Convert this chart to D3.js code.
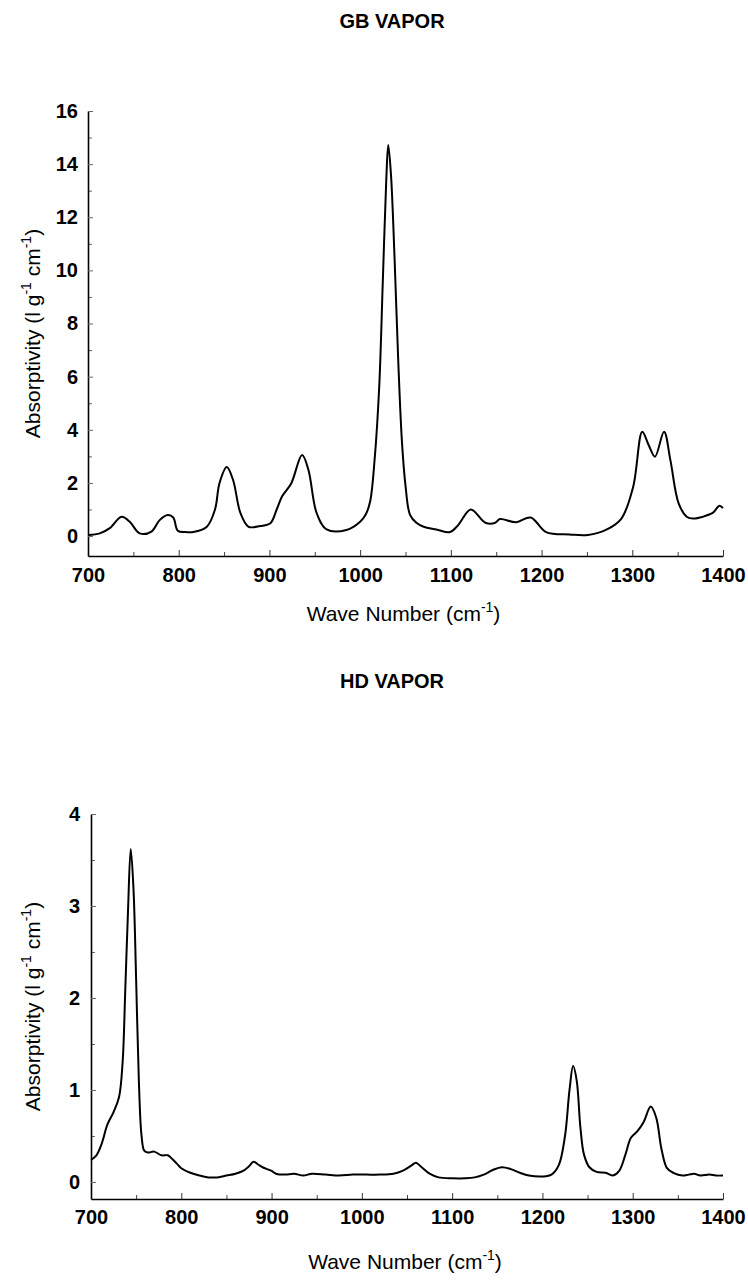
<!DOCTYPE html>
<html>
<head>
<meta charset="utf-8">
<script src="https://cdnjs.cloudflare.com/ajax/libs/d3/7.8.5/d3.min.js"></script>
<style>
  body { margin: 0; background: #fff; }
  svg { display: block; }
  text { font-family: "Liberation Sans", Arial, Helvetica, sans-serif; fill: #000; }
</style>
</head>
<body>
<div id="chart"></div>
<script>
// GB vapor spectrum
var gbWave = [700, 713, 724, 737, 746, 757, 770, 779, 788, 794, 799, 808, 816, 831, 840, 845, 853, 860, 868, 877,
  890, 901, 908, 914, 924, 936, 943, 952, 963, 985, 1000, 1006, 1011, 1016, 1021, 1025, 1029, 1031, 1034, 1038, 1042, 1046, 1050, 1055,
  1062, 1070, 1084, 1099, 1108, 1122, 1138, 1149, 1154, 1172, 1188, 1205, 1231, 1251, 1272, 1288, 1301, 1311, 1318, 1325,
  1335, 1342, 1351, 1360, 1367, 1378, 1389, 1396, 1400];
var gbAbs = [0.04, 0.1, 0.3, 0.73, 0.54, 0.1, 0.17, 0.6, 0.79, 0.7, 0.2, 0.15, 0.15, 0.35, 1.0, 2.0, 2.6, 2.1, 0.87, 0.35,
  0.38, 0.48, 1.0, 1.5, 1.98, 3.05, 2.49, 0.87, 0.25, 0.23, 0.54, 0.8, 1.3, 2.9, 5.6, 9.6, 13.6, 14.72, 13.6, 10.4, 6.6, 3.6, 1.9, 0.8,
  0.5, 0.35, 0.25, 0.15, 0.41, 1.0, 0.5, 0.5, 0.64, 0.52, 0.7, 0.15, 0.06, 0.04, 0.25, 0.66, 1.86, 3.93, 3.43, 2.99,
  3.93, 2.86, 1.24, 0.73, 0.66, 0.73, 0.88, 1.14, 1.05];

// HD vapor spectrum
var hdWave = [700, 706, 712, 718, 725, 731, 735, 738, 741, 744, 747, 750, 753, 756, 759, 763, 770, 778, 785, 790,
  795, 800, 810, 820, 830, 840, 850, 860, 870, 875, 880, 885, 890, 900, 905, 915, 925, 935, 945, 960, 975, 990,
  1005, 1020, 1035, 1045, 1055, 1060, 1065, 1075, 1085, 1100, 1115, 1125, 1135, 1145, 1155, 1165, 1175, 1185, 1200,
  1210, 1218, 1225, 1230, 1234, 1238, 1242, 1246, 1252, 1260, 1270, 1278, 1285, 1292, 1298, 1305, 1312, 1320, 1326,
  1332, 1338, 1345, 1355, 1362, 1368, 1375, 1385, 1392, 1400];
var hdAbs = [0.24, 0.29, 0.42, 0.62, 0.76, 0.92, 1.3, 2.1, 2.95, 3.62, 3.2, 2.2, 1.1, 0.5, 0.34, 0.32, 0.33, 0.29, 0.29, 0.25,
  0.2, 0.15, 0.1, 0.07, 0.05, 0.05, 0.07, 0.09, 0.13, 0.17, 0.22, 0.19, 0.16, 0.12, 0.09, 0.08, 0.09, 0.07, 0.09, 0.08, 0.07, 0.08,
  0.08, 0.08, 0.09, 0.12, 0.18, 0.21, 0.17, 0.09, 0.05, 0.04, 0.04, 0.05, 0.08, 0.13, 0.16, 0.14, 0.1, 0.07, 0.06,
  0.08, 0.18, 0.5, 1.0, 1.26, 1.1, 0.6, 0.3, 0.16, 0.11, 0.1, 0.07, 0.12, 0.3, 0.48, 0.55, 0.65, 0.82, 0.7,
  0.35, 0.15, 0.1, 0.07, 0.08, 0.09, 0.07, 0.08, 0.07, 0.07];

var waveTicks = [700, 800, 900, 1000, 1100, 1200, 1300, 1400];
var waveMinor = [750, 850, 950, 1050, 1150, 1250, 1350];
var gbTicks = [0, 2, 4, 6, 8, 10, 12, 14, 16];
var gbMinor = [1, 3, 5, 7, 9, 11, 13, 15];
var hdTicks = [0, 1, 2, 3, 4];
var hdMinor = [0.5, 1.5, 2.5, 3.5];

var width = 748, height = 1284;

var svg = d3.select("#chart").append("svg")
  .attr("width", width)
  .attr("height", height);

function drawPanel(p) {
  var x = d3.scaleLinear().domain([700, 1400]).range([p.left, p.right]);
  var y = d3.scaleLinear().domain([p.yMin, p.yMax]).range([p.bottom, p.top]);

  var g = svg.append("g");

  // minor ticks first (no labels)
  g.append("g")
    .attr("transform", "translate(0," + p.bottom + ")")
    .call(d3.axisBottom(x).tickValues(waveMinor).tickSizeInner(-4).tickSizeOuter(0).tickFormat(""))
    .call(function(a) { a.select(".domain").remove(); a.selectAll("line").attr("stroke-width", 1).attr("stroke", "#444"); });

  g.append("g")
    .attr("transform", "translate(" + p.left + ",0)")
    .call(d3.axisLeft(y).tickValues(p.minor).tickSizeInner(-4).tickSizeOuter(0).tickFormat(""))
    .call(function(a) { a.select(".domain").remove(); a.selectAll("line").attr("stroke-width", 1).attr("stroke", "#666"); });

  // x axis
  var xa = g.append("g")
    .attr("transform", "translate(0," + p.bottom + ")")
    .call(d3.axisBottom(x).tickValues(waveTicks).tickSizeInner(-6).tickSizeOuter(0).tickPadding(p.xPad).tickFormat(d3.format("d")));
  xa.select(".domain").attr("stroke-width", 1.6);
  xa.selectAll("line").attr("stroke-width", 1).attr("stroke", "#333");
  xa.selectAll("text").attr("font-size", 20).attr("font-weight", "bold");

  // y axis
  var ya = g.append("g")
    .attr("transform", "translate(" + p.left + ",0)")
    .call(d3.axisLeft(y).tickValues(p.ticks).tickSizeInner(-5).tickSizeOuter(0).tickPadding(p.yPad).tickFormat(d3.format("d")));
  ya.select(".domain").attr("stroke-width", 1.6);
  ya.selectAll("line").attr("stroke-width", 1).attr("stroke", "#666");
  ya.selectAll("text").attr("font-size", 20).attr("font-weight", "bold");

  // spectrum
  var pts = p.wave.map(function(w, i) { return [w, p.abs[i]]; });
  var line = d3.line()
    .x(function(d) { return x(d[0]); })
    .y(function(d) { return y(d[1]); })
    .curve(d3.curveCatmullRom.alpha(0.5));

  g.append("path")
    .datum(pts)
    .attr("fill", "none")
    .attr("stroke", "#000")
    .attr("stroke-width", 2)
    .attr("stroke-linejoin", "round")
    .attr("d", line);

  // title
  g.append("text")
    .attr("x", p.titleX)
    .attr("y", p.titleY)
    .attr("text-anchor", "middle")
    .attr("font-size", 20)
    .attr("font-weight", "bold")
    .text(p.title);

  // x label
  var xl = g.append("text")
    .attr("x", (p.left + p.right) / 2 - 2)
    .attr("y", p.xLabelY)
    .attr("text-anchor", "middle")
    .attr("font-size", 21);
  xl.append("tspan").text("Wave Number (cm");
  xl.append("tspan").attr("font-size", 14).attr("dy", -9).text("-1");
  xl.append("tspan").attr("dy", 9).text(")");

  // y label
  var cy = (p.top + p.bottom) / 2;
  var yl = g.append("text")
    .attr("transform", "translate(" + p.yLabelX + "," + cy + ") rotate(-90)")
    .attr("text-anchor", "middle")
    .attr("font-size", 21);
  yl.append("tspan").text("Absorptivity (l g");
  yl.append("tspan").attr("font-size", 14).attr("dy", -9).text("-1");
  yl.append("tspan").attr("dy", 9).text(" cm");
  yl.append("tspan").attr("font-size", 14).attr("dy", -9).text("-1");
  yl.append("tspan").attr("dy", 9).text(")");
}

drawPanel({
  title: "GB VAPOR", titleX: 392, titleY: 28,
  wave: gbWave, abs: gbAbs,
  left: 88, right: 723, top: 111, bottom: 556,
  yMin: -0.75, yMax: 16,
  ticks: gbTicks, minor: gbMinor,
  xPad: 12, yPad: 10,
  xLabelY: 621, yLabelX: 40
});

drawPanel({
  title: "HD VAPOR", titleX: 392, titleY: 688,
  wave: hdWave, abs: hdAbs,
  left: 91, right: 723, top: 814, bottom: 1199,
  yMin: -0.185, yMax: 4,
  ticks: hdTicks, minor: hdMinor,
  xPad: 11, yPad: 11,
  xLabelY: 1269, yLabelX: 40
});
</script>
</body>
</html>
